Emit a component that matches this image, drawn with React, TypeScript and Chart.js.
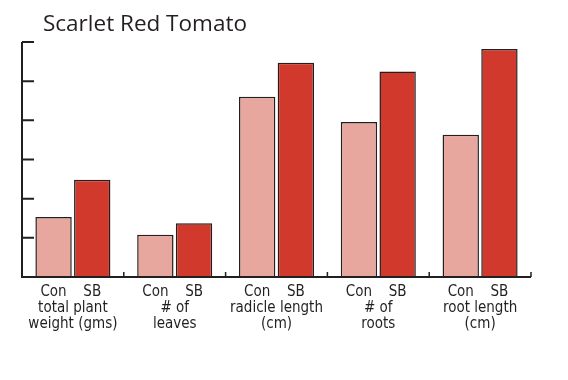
import React, { useEffect, useRef } from "react";
import { Chart, registerables } from "chart.js";

Chart.register(...registerables);

const categories: string[][] = [
  ["total plant", "weight (gms)"],
  ["# of", "leaves"],
  ["radicle length", "(cm)"],
  ["# of", "roots"],
  ["root length", "(cm)"],
];
const seriesNames = ["Con", "SB"];
const conValues = [1.53, 1.08, 4.6, 3.96, 3.63];
const sbValues = [2.48, 1.37, 5.47, 5.25, 5.82];
const yMax = 6;
const yStep = 1;
const titleText = "Scarlet Red Tomato";

const FONT = "'Liberation Sans Narrow', 'DejaVu Sans Condensed', 'Noto Sans', sans-serif";
const AXIS = "#231f20";

const decorPlugin = {
  id: "decor",
  afterDraw(chart: any) {
    const ctx = chart.ctx;
    const area = chart.chartArea;
    const x = chart.scales.x;
    const y = chart.scales.y;
    ctx.save();
    // title
    ctx.fillStyle = AXIS;
    ctx.font = "22.5px 'Open Sans', 'Noto Sans', sans-serif";
    ctx.textAlign = "left";
    ctx.textBaseline = "alphabetic";
    ctx.fillText(titleText, area.left + 21, 31);
    // axes
    ctx.strokeStyle = AXIS;
    ctx.lineWidth = 2;
    ctx.beginPath();
    ctx.moveTo(area.left, area.top);
    ctx.lineTo(area.left, area.bottom);
    ctx.lineTo(area.right, area.bottom);
    ctx.stroke();
    // y ticks pointing inward
    ctx.beginPath();
    y.ticks.forEach((t: any) => {
      const py = y.getPixelForValue(t.value);
      ctx.moveTo(area.left, py);
      ctx.lineTo(area.left + 12, py);
    });
    ctx.stroke();
    // x boundary ticks
    const n = categories.length;
    const w = (x.right - x.left) / n;
    ctx.lineWidth = 1.5;
    ctx.beginPath();
    for (let i = 0; i < n; i++) {
      const px = x.getPixelForValue(i) + w / 2;
      ctx.moveTo(px, area.bottom);
      ctx.lineTo(px, area.bottom - 5);
    }
    ctx.stroke();
    // series labels under bars
    ctx.fillStyle = AXIS;
    ctx.font = "15px " + FONT;
    ctx.textAlign = "center";
    ctx.textBaseline = "middle";
    chart.data.datasets.forEach((ds: any, di: number) => {
      const meta = chart.getDatasetMeta(di);
      meta.data.forEach((el: any) => {
        ctx.fillText(seriesNames[di], el.x, area.bottom + 15);
      });
    });
    ctx.restore();
  },
};

export default function App() {
  const ref = useRef<HTMLCanvasElement>(null);
  useEffect(() => {
    document.body.style.margin = "0";
    const chart = new Chart(ref.current!, {
      type: "bar",
      data: {
        labels: categories,
        datasets: [
          {
            label: seriesNames[0],
            data: conValues,
            backgroundColor: "#e8a79e",
            borderColor: "#231f20",
            borderWidth: 1.5,
            categoryPercentage: 0.76,
            barPercentage: 0.94,
          },
          {
            label: seriesNames[1],
            data: sbValues,
            backgroundColor: "#d0392b",
            borderColor: "#231f20",
            borderWidth: 1.5,
            categoryPercentage: 0.76,
            barPercentage: 0.94,
          },
        ],
      },
      options: {
        responsive: false,
        animation: false,
        layout: { padding: { left: 22, right: 37, top: 42, bottom: 0 } },
        plugins: { legend: { display: false }, title: { display: false }, tooltip: { enabled: false } },
        scales: {
          x: {
            grid: { display: false, drawTicks: false },
            border: { display: false },
            ticks: {
              color: AXIS,
              font: { family: FONT, size: 15, lineHeight: "16px" as any },
              padding: 23,
              maxRotation: 0,
              autoSkip: false,
            },
            afterFit: (s: any) => {
              s.height = 103;
            },
          },
          y: {
            min: 0,
            max: yMax,
            ticks: { display: false, stepSize: yStep },
            grid: { display: false, drawTicks: false },
            border: { display: false },
            afterFit: (s: any) => {
              s.width = 0;
            },
          },
        },
      },
      plugins: [decorPlugin],
    });
    return () => chart.destroy();
  }, []);
  return <canvas ref={ref} width={568} height={380} style={{ display: "block" }} />;
}
